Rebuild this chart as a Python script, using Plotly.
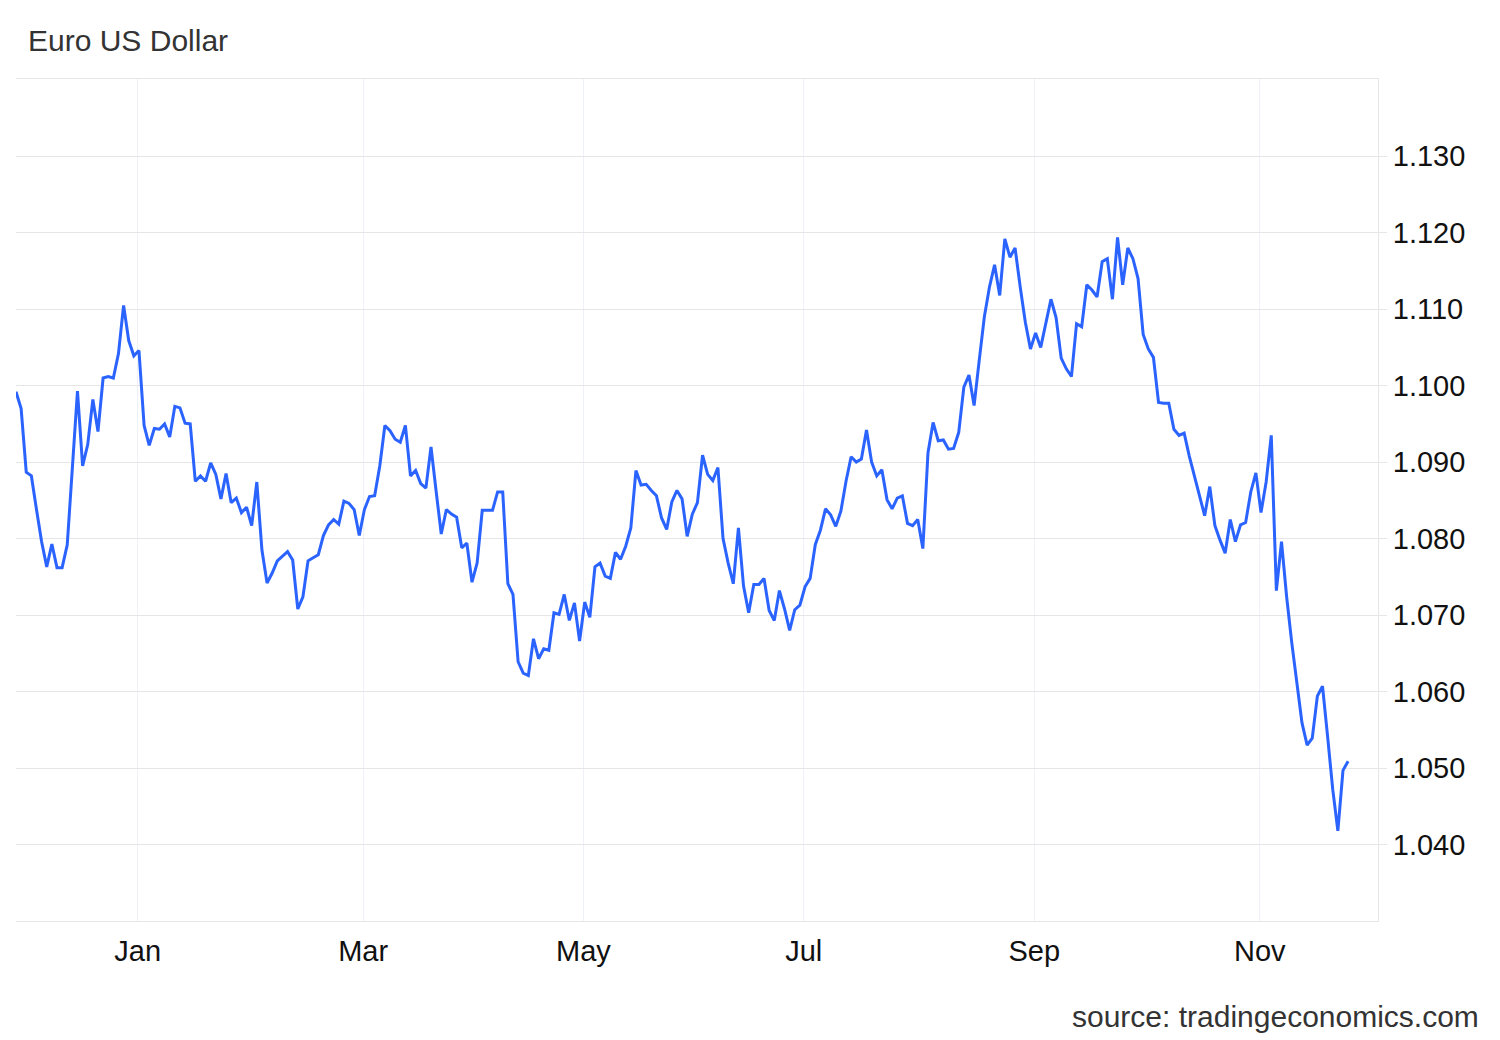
import plotly.graph_objects as go
import pandas as pd

# EUR/USD daily closes (weekdays), 28 Nov 2023 -> 26 Nov 2024
start_date = "2023-11-28"
eurusd = [
    1.0992, 1.0970, 1.0887, 1.0882, 1.0838, 1.0796, 1.0763, 1.0793, 1.0762, 1.0762,
    1.0792, 1.0886, 1.0993, 1.0895, 1.0923, 1.0982, 1.0940, 1.1010, 1.1012, 1.1010,
    1.1042, 1.1105, 1.1059, 1.1039, 1.1046, 1.0948, 1.0922, 1.0944, 1.0943, 1.0950,
    1.0933, 1.0973, 1.0971, 1.0951, 1.0950, 1.0875, 1.0882, 1.0875, 1.0899, 1.0884,
    1.0852, 1.0885, 1.0847, 1.0853, 1.0834, 1.0841, 1.0817, 1.0874, 1.0785, 1.0742,
    1.0755, 1.0771, 1.0777, 1.0783, 1.0772, 1.0708, 1.0724, 1.0771, 1.0775, 1.0779,
    1.0804, 1.0818, 1.0825, 1.0819, 1.0849, 1.0846, 1.0838, 1.0804, 1.0838, 1.0855,
    1.0856, 1.0895, 1.0948, 1.0941, 1.0930, 1.0926, 1.0948, 1.0882, 1.0889, 1.0872,
    1.0866, 1.0920, 1.0862, 1.0806, 1.0838, 1.0832, 1.0828, 1.0788, 1.0794, 1.0743,
    1.0768, 1.0837, 1.0837, 1.0837, 1.0861, 1.0861, 1.0741, 1.0727, 1.0639, 1.0624,
    1.0621, 1.0669, 1.0643, 1.0656, 1.0654, 1.0703, 1.0701, 1.0727, 1.0693, 1.0716,
    1.0666, 1.0717, 1.0697, 1.0763, 1.0768, 1.0751, 1.0748, 1.0782, 1.0773, 1.0790,
    1.0814, 1.0889, 1.0870, 1.0871, 1.0863, 1.0856, 1.0827, 1.0812, 1.0848, 1.0863,
    1.0852, 1.0803, 1.0832, 1.0847, 1.0909, 1.0884, 1.0876, 1.0893, 1.0800, 1.0768,
    1.0741, 1.0814, 1.0738, 1.0703, 1.0740, 1.0740, 1.0748, 1.0706, 1.0693, 1.0732,
    1.0708, 1.0680, 1.0707, 1.0713, 1.0737, 1.0748, 1.0792, 1.0811, 1.0839, 1.0831,
    1.0816, 1.0836, 1.0875, 1.0907, 1.0900, 1.0904, 1.0942, 1.0900, 1.0882, 1.0890,
    1.0851, 1.0839, 1.0853, 1.0856, 1.0820, 1.0817, 1.0825, 1.0787, 1.0912, 1.0952,
    1.0928, 1.0929, 1.0917, 1.0918, 1.0939, 1.0998, 1.1014, 1.0974, 1.1033, 1.1090,
    1.1129, 1.1158, 1.1118, 1.1192, 1.1168, 1.1180, 1.1129, 1.1083, 1.1048, 1.1069,
    1.1050, 1.1082, 1.1113, 1.1089, 1.1036, 1.1022, 1.1012, 1.1081, 1.1077, 1.1132,
    1.1125, 1.1116, 1.1162, 1.1166, 1.1113, 1.1194, 1.1132, 1.1180, 1.1166, 1.1140,
    1.1067, 1.1048, 1.1037, 1.0978, 1.0977, 1.0977, 1.0943, 1.0935, 1.0938, 1.0908,
    1.0882, 1.0855, 1.0830, 1.0868, 1.0817, 1.0798, 1.0781, 1.0825, 1.0796, 1.0818,
    1.0821, 1.0861, 1.0886, 1.0834, 1.0874, 1.0935, 1.0732, 1.0796, 1.0724, 1.0664,
    1.0610, 1.0559, 1.0530, 1.0539, 1.0594, 1.0607, 1.0541, 1.0472, 1.0418, 1.0497,
    1.0509,
]

month_ticks = ["2024-01-01", "2024-03-01", "2024-05-01", "2024-07-01", "2024-09-02", "2024-11-01"]
month_labels = ["Jan", "Mar", "May", "Jul", "Sep", "Nov"]
y_ticks = [1.04, 1.05, 1.06, 1.07, 1.08, 1.09, 1.10, 1.11, 1.12, 1.13]

# weekday series; the feed stamps each close in the early morning
dates = pd.bdate_range(start_date, periods=len(eurusd)) + pd.Timedelta(hours=6)

FONT = "Arial, Liberation Sans, sans-serif"

fig = go.Figure()
fig.add_trace(go.Scatter(
    x=dates, y=eurusd,
    mode="lines",
    line=dict(color="#2b63ff", width=3),
    name="EURUSD",
    showlegend=False,
))

fig.update_xaxes(
    rangebreaks=[dict(bounds=["sat", "mon"])],
    range=[dates[0], pd.Timestamp("2024-12-04 02:00")],
    tickvals=month_ticks,
    ticktext=month_labels,
    ticks="outside", ticklen=4, tickcolor="rgba(0,0,0,0)",
    showgrid=True, gridcolor="#eef1f5", gridwidth=1,
    showline=True, mirror=True, linecolor="#e6e6e6", linewidth=1,
    zeroline=False,
    tickfont=dict(family=FONT, size=29, color="#111111"),
)

fig.update_yaxes(
    side="right",
    range=[1.0300, 1.1401],
    tickvals=y_ticks,
    tickformat=".3f",
    ticks="outside", ticklen=8, tickcolor="#e6e6e6",
    showgrid=True, gridcolor="#e6e6e6", gridwidth=1,
    showline=True, linecolor="#e6e6e6", linewidth=1,
    zeroline=False,
    tickfont=dict(family=FONT, size=29, color="#111111"),
)

# the page body adds an 8px offset, so margins are trimmed on the left/top
fig.update_layout(
    width=1500, height=1040,
    paper_bgcolor="white", plot_bgcolor="white",
    margin=dict(l=8, r=130, t=71, b=127),
    title=dict(
        text="Euro US Dollar",
        xref="container", x=20 / 1500, xanchor="left",
        yref="container", y=1 - 32 / 1040, yanchor="middle",
        font=dict(family=FONT, size=30, color="#333333"),
    ),
    font=dict(family=FONT),
)

fig.add_annotation(
    text="source: tradingeconomics.com",
    xref="paper", yref="paper",
    x=(1481 - 16) / 1362, y=(921 - 1016) / 842,
    xanchor="right", yanchor="middle",
    showarrow=False,
    font=dict(family=FONT, size=30, color="#333333"),
)

fig.write_html("out.html")
